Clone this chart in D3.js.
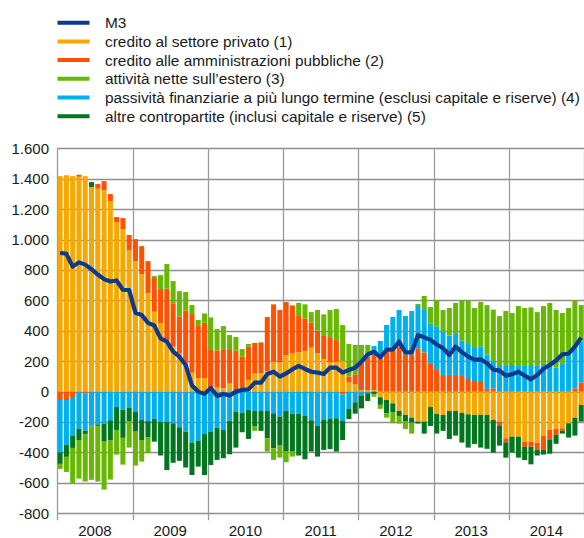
<!DOCTYPE html>
<html>
<head>
<meta charset="utf-8">
<script src="https://cdn.jsdelivr.net/npm/d3@7"></script>
<style>
  html, body { margin: 0; padding: 0; background: #ffffff; }
  svg { display: block; }
  text { font-family: "Liberation Sans", Arial, sans-serif; fill: #1a1a1a; }
</style>
</head>
<body>
<svg id="chart" width="584" height="538"></svg>
<script>
// ---------------- DATA ----------------
const years = ["2008", "2009", "2010", "2011", "2012", "2013", "2014"];
const yTicks = [-800, -600, -400, -200, 0, 200, 400, 600, 800, 1000, 1200, 1400, 1600];

const seriesNames = [
  "M3",
  "credito al settore privato (1)",
  "credito alle amministrazioni pubbliche (2)",
  "attività nette sull’estero (3)",
  "passività finanziarie a più lungo termine (esclusi capitale e riserve) (4)",
  "altre contropartite (inclusi capitale e riserve) (5)"
];

// monthly values, Jan 2008 - Dec 2014
const creditoPrivato = [
  1417, 1423, 1417, 1413, 1417, 1345, 1334, 1325, 1253, 1115, 1069, 931, 858, 773, 648, 526, 451,
  329, 296, 252, 186, 125, 88, 88, 10, 26, 22, 53, 0, 0, 77, 120, 120, 136,
  197, 193, 241, 252, 258, 267, 289, 252, 215, 193, 197, 201, 60, 50, 11, 7, 11,
  -37, -55, -77, -127, -153, -171, -197, -197, -101, -147, -153, -127, -127, -140, -149, -153, -153,
  -153, -186, -197, -307, -296, -296, -329, -329, -335, -291, -252, -245, -241, -208, -171, -88
];
const creditoAP = [
  -55, -55, -35, 13, -13, 0, 31, 59, 46, 33, 72, 99, 145, 184, 210, 221, 223,
  348, 285, 241, 346, 385, 343, 365, 264, 243, 252, 227, 269, 230, 219, 200, 202, 355,
  377, 344, 348, 315, 239, 215, 164, 149, 151, 160, 142, -18, 40, 64, 186, 223, 230,
  219, 263, 298, 296, 245, 245, 285, 258, 182, 142, 110, 110, 110, 103, 83, 70, 70,
  18, 22, -29, -26, 0, 0, -33, -33, -48, -92, -66, -39, -15, 0, 22, 61
];
const attivitaEstero = [
  -33, -99, -234, -254, -313, -350, -366, -315, -256, -162, -176, -171, -223, -142, -103, 13, 92,
  162, 146, 168, 123, 59, 40, 61, 214, 142, 157, 92, 90, 50, 17, -28, 4, -87,
  -77, -79, -70, -33, 86, 92, 70, 136, 142, 184, 204, 237, 213, 193, 110, 77, -15,
  -26, -28, -70, -50, -48, -72, 7, 92, 107, 175, 143, 182, 204, 267, 285, 263, 291,
  324, 338, 322, 361, 342, 388, 381, 379, 354, 388, 397, 379, 335, 316, 318, 240
];
const passivitaLT = [
  -344, -295, -256, -245, -245, -230, -215, -210, -188, -101, -120, -107, -134, -186, -193, -180, -199,
  -199, -208, -234, -263, -335, -324, -278, -265, -237, -252, -193, -131, -140, -120, -127, -127, -127,
  -142, -164, -127, -145, -145, -160, -188, -226, -186, -180, -175, -175, -114, -70, -25, -10, 59,
  114, 175, 193, 241, 252, 285, 284, 279, 267, 285, 284, 258, 269, 232, 230, 217, 228,
  227, 179, 175, 169, 175, 175, 169, 175, 169, 175, 186, 158, 182, 234, 258, 268
];
const altreContropartite = [
  -76, -79, -79, -73, -20, 33, -10, -119, -134, -151, -184, -90, -129, -132, -109, -149, -221,
  -317, -260, -221, -236, -213, -169, -270, -217, -212, -186, -219, -237, -127, -191, -103, -131, -180,
  -230, -191, -267, -249, -275, -285, -206, -201, -197, -197, -219, -125, -66, -75, -85, -52, -18,
  -50, -88, -61, -33, -44, -33, -13, -79, -125, -129, -105, -184, -162, -195, -219, -191, -215,
  -223, -215, -129, -101, -103, -138, -88, -116, -37, -31, -90, -59, -20, -94, -118, -109
];
const m3 = [
  913, 906, 822, 850, 835, 805, 770, 740, 724, 731, 670, 668, 518, 504, 452, 435, 350,
  329, 263, 230, 175, 40, 0, -15, 24, -28, -15, -26, 0, 11, 15, 59, 59, 116,
  131, 99, 120, 147, 169, 149, 131, 125, 116, 158, 158, 125, 142, 158, 197, 245, 263,
  226, 274, 278, 329, 258, 258, 372, 357, 340, 310, 285, 241, 296, 260, 230, 210, 212,
  186, 145, 138, 105, 114, 131, 105, 81, 110, 150, 175, 205, 245, 250, 295, 355
];

(function () {
  const colors = {
    m3: "#0b3a8f",
    priv: "#f7a800",
    ap: "#ff5100",
    est: "#66b900",
    pass: "#00b0ee",
    altre: "#00771e"
  };

  const months = years.flatMap(yv => d3.range(1, 13).map(m => yv + "-" + String(m).padStart(2, "0")));

  const rows = months.map((m, i) => ({
    month: m,
    priv: creditoPrivato[i],
    ap: creditoAP[i],
    pass: passivitaLT[i],
    altre: altreContropartite[i],
    est: attivitaEstero[i]
  }));

  const svg = d3.select("#chart");
  const pLeft = 57.3, pRight = 584, pTop = 148.3, pBottom = 513.3;

  const x = d3.scaleBand().domain(months).range([pLeft, pRight]).paddingInner(0.2).paddingOuter(0.05);
  const xYear = d3.scaleBand().domain(years).range([pLeft, pRight]);
  const y = d3.scaleLinear().domain([-800, 1600]).range([pBottom, pTop]);

  const fmt = d3.formatLocale({ decimal: ",", thousands: ".", grouping: [3], currency: ["", "€"], minus: "-" }).format(",d");

  const grid = svg.append("g");
  grid.selectAll("line.h").data(yTicks).join("line")
    .attr("x1", pLeft).attr("x2", pRight)
    .attr("y1", d => Math.round(y(d)) + 0.5).attr("y2", d => Math.round(y(d)) + 0.5)
    .attr("stroke", "#8f8f8f").attr("stroke-width", 1.3);
  const yearBounds = years.map(yv => xYear(yv)).concat([pRight]);
  grid.selectAll("line.v").data(yearBounds).join("line")
    .attr("x1", d => Math.round(d) + 0.5).attr("x2", d => Math.round(d) + 0.5)
    .attr("y1", pTop).attr("y2", pBottom + 7)
    .attr("stroke", "#9a9a9a").attr("stroke-width", 1.3);

  svg.append("g").selectAll("text").data(yTicks).join("text")
    .attr("x", 49).attr("y", d => y(d)).attr("dy", "0.36em")
    .attr("text-anchor", "end").attr("font-size", 15)
    .text(d => fmt(d));

  svg.append("g").selectAll("text").data(years).join("text")
    .attr("x", d => xYear(d) + xYear.bandwidth() / 2).attr("y", 535.5)
    .attr("text-anchor", "middle").attr("font-size", 15)
    .text(d => d);

  const keys = ["priv", "ap", "pass", "altre", "est"];
  const stacked = d3.stack().keys(keys).offset(d3.stackOffsetDiverging)(rows);

  svg.append("g").selectAll("g").data(stacked).join("g")
    .attr("fill", d => colors[d.key])
    .selectAll("rect").data(d => d).join("rect")
    .attr("x", d => x(d.data.month))
    .attr("width", x.bandwidth())
    .attr("y", d => y(Math.max(d[0], d[1])))
    .attr("height", d => Math.abs(y(d[0]) - y(d[1])));

  const line = d3.line()
    .x((d, i) => x(months[i]) + x.bandwidth() / 2)
    .y(d => y(d));
  svg.append("path").datum(m3)
    .attr("d", line)
    .attr("fill", "none")
    .attr("stroke", colors.m3)
    .attr("stroke-width", 4.2)
    .attr("stroke-linejoin", "round");

  const legendColors = [colors.m3, colors.priv, colors.ap, colors.est, colors.pass, colors.altre];
  const lg = svg.append("g").selectAll("g").data(seriesNames).join("g")
    .attr("transform", (d, i) => `translate(0, ${22.7 + i * 18.7})`);
  lg.append("line").attr("x1", 57.5).attr("x2", 89.5).attr("y1", 0).attr("y2", 0)
    .attr("stroke", (d, i) => legendColors[i]).attr("stroke-width", 4);
  lg.append("text").attr("x", 105).attr("y", 0).attr("dy", "0.36em")
    .attr("font-size", 15.4).text(d => d);
})();
</script>
</body>
</html>
